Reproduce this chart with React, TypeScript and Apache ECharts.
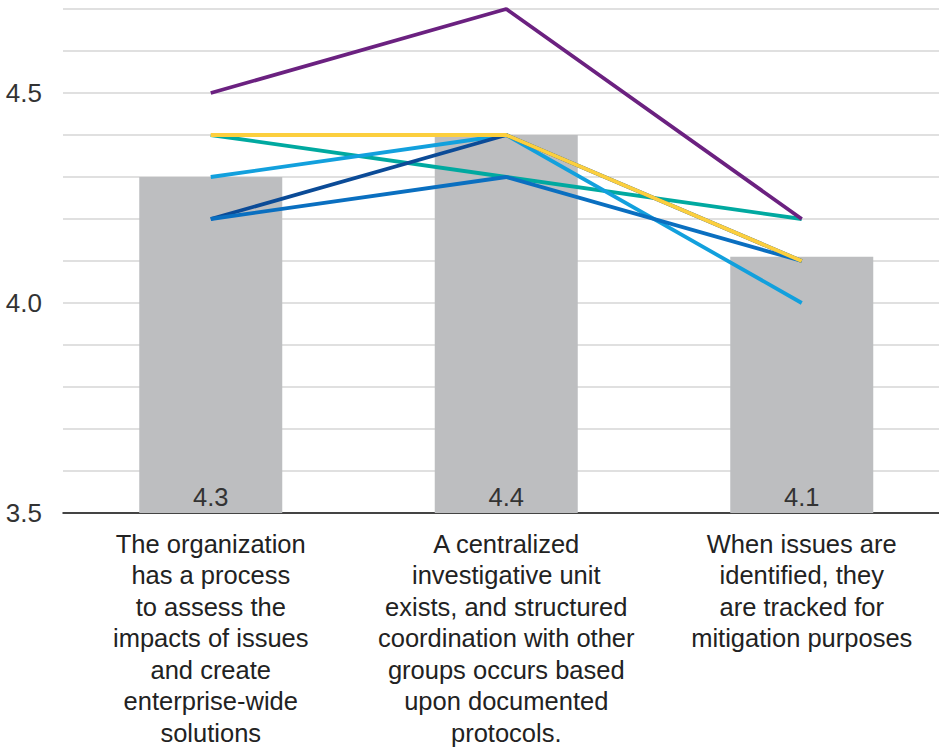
import React, { useEffect, useRef } from "react";
import * as echarts from "echarts";

const categories = [
  "The organization\nhas a process\nto assess the\nimpacts of issues\nand create\nenterprise-wide\nsolutions",
  "A centralized\ninvestigative unit\nexists, and structured\ncoordination with other\ngroups occurs based\nupon documented\nprotocols.",
  "When issues are\nidentified, they\nare tracked for\nmitigation purposes",
];

const averageValues = [4.3, 4.4, 4.11];

const seriesNames = ["Group 1", "Group 2", "Group 3", "Group 4", "Group 5", "Group 6"];
const group1 = [4.4, 4.3, 4.2]; // teal
const group2 = [4.3, 4.4, 4.0]; // light blue
const group3 = [4.2, 4.4, 4.1]; // navy
const group4 = [4.2, 4.3, 4.1]; // medium blue
const group5 = [4.4, 4.4, 4.1]; // yellow
const group6 = [4.5, 4.7, 4.2]; // purple

const lineData = [group1, group2, group3, group4, group5, group6];
const lineColors = ["#00A9A0", "#12A0DD", "#0B4B97", "#0A6FC0", "#FCCF3E", "#6B2180"];

const yLabels = [3.5, 4.0, 4.5];

const FONT = "'Liberation Sans', Arial, sans-serif";

export default function App() {
  const ref = useRef<HTMLDivElement>(null);

  useEffect(() => {
    if (!ref.current) return;
    const chart = echarts.init(ref.current, null, { renderer: "svg" });
    const option: any = {
      animation: false,
      textStyle: { fontFamily: FONT },
      grid: {
        left: 63,
        top: 9,
        width: 886.5,
        height: 504,
        containLabel: false,
        outerBoundsMode: "none",
      },
      xAxis: {
        type: "category",
        data: categories,
        axisLine: { show: true, lineStyle: { color: "#111", width: 1.5 } },
        axisTick: { show: false },
        axisLabel: {
          interval: 0,
          fontSize: 25.5,
          lineHeight: 31.5,
          color: "#222",
          margin: 15,
          fontFamily: FONT,
        },
      },
      yAxis: {
        type: "value",
        min: 3.5,
        max: 4.7,
        interval: 0.1,
        axisLine: { show: false },
        axisTick: { show: false },
        splitLine: { show: true, lineStyle: { color: "#d6d6d6", width: 1.5 } },
        axisLabel: {
          color: "#333",
          fontSize: 26,
          margin: 21,
          fontFamily: FONT,
          formatter: (v: number) => {
            const hit = yLabels.find((l) => Math.abs(l - v) < 1e-6);
            return hit !== undefined ? hit.toFixed(1) : "";
          },
        },
      },
      series: [
        {
          type: "bar",
          name: "Average",
          data: averageValues,
          barWidth: 143,
          itemStyle: { color: "#BDBEC0" },
          label: {
            show: true,
            position: "insideBottom",
            distance: 3,
            color: "#333",
            fontSize: 25.5,
            fontFamily: FONT,
            formatter: (p: any) => Number(p.value).toFixed(1),
          },
          z: 1,
        },
        ...lineData.map((d, i) => ({
          type: "line",
          name: seriesNames[i],
          data: d,
          symbol: "none",
          lineStyle: { color: lineColors[i], width: 3.8 },
          itemStyle: { color: lineColors[i] },
          z: 3 + i,
        })),
      ],
    };
    chart.setOption(option);
    return () => chart.dispose();
  }, []);

  return (
    <div
      ref={ref}
      style={{ position: "fixed", left: 0, top: 0, width: 939, height: 748, background: "#fff" }}
    />
  );
}
